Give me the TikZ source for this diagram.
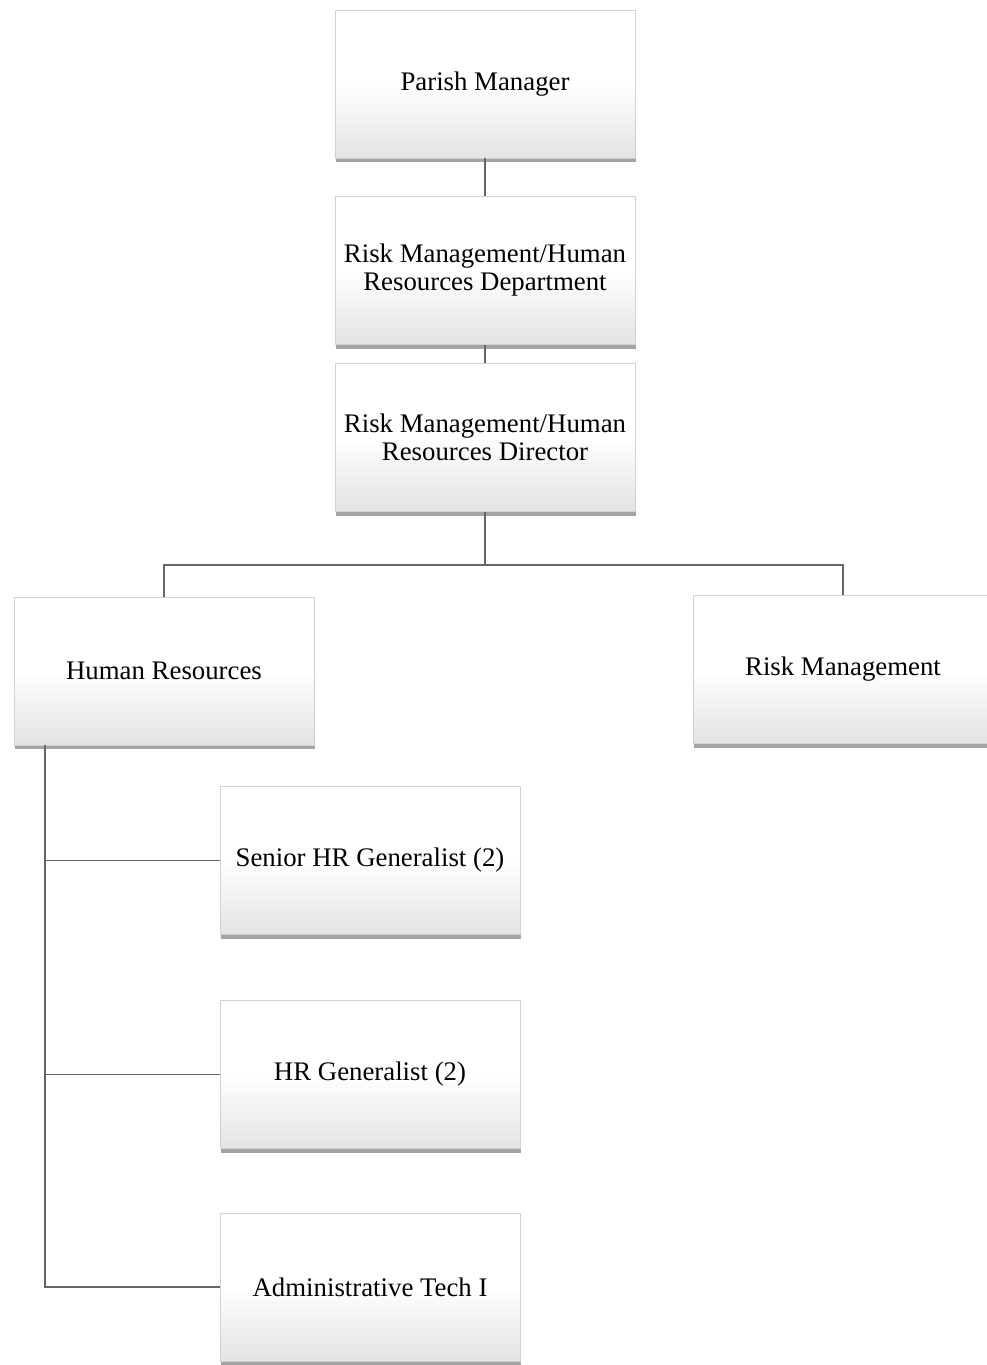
\documentclass[tikz,border=0pt]{standalone}
\usepackage{fontspec}
\setmainfont{Liberation Serif}
\usetikzlibrary{shadows}
\definecolor{linegray}{gray}{0.4}
\definecolor{boxedge}{gray}{0.82}

\tikzset{
  orgbox/.style={draw=boxedge, line width=0.3pt, top color=white, bottom color=black!11, middle color=white,
    minimum width=150pt, minimum height=74pt, align=center, inner sep=2pt,
    font=\fontsize{13.4}{14}\selectfont,
    drop shadow={shadow xshift=0.5pt, shadow yshift=-2pt, opacity=0.55, fill=black!65}},
  link/.style={draw=linegray, line width=0.8pt}
}

\begin{document}
\begin{tikzpicture}[x=0.5pt, y=-0.5pt]
  \useasboundingbox (0,0) rectangle (986,1365);
  % top of the chart
  \node[orgbox] (pm) at (485,84) {Parish Manager};
  \node[orgbox] (dept) at (485,270.5) {Risk Management/Human\\Resources Department};
  \node[orgbox] (dir) at (485,437.5) {Risk Management/Human\\Resources Director};
  % second level
  \node[orgbox] (hr) at (164,671) {Human Resources};
  \node[orgbox] (rm) at (843,669.5) {Risk Management};
  % HR staff
  \node[orgbox] (senior) at (370,860.5) {Senior HR Generalist (2)};
  \node[orgbox] (gen) at (370,1074.5) {HR Generalist (2)};
  \node[orgbox] (admin) at (370,1287) {Administrative Tech I};
  % connectors
  \draw[link] (pm.south) -- (dept.north);
  \draw[link] (dept.south) -- (dir.north);
  \coordinate (bus) at (485,565);
  \draw[link] (dir.south) -- (bus) -| (hr.north);
  \draw[link] (bus) -| (rm.north);
  \coordinate (trunk) at ([xshift=15.5pt]hr.south west);
  \draw[link] (trunk) |- (senior.west);
  \draw[link] (trunk) |- (gen.west);
  \draw[link] (trunk) |- (admin.west);
\end{tikzpicture}
\end{document}
